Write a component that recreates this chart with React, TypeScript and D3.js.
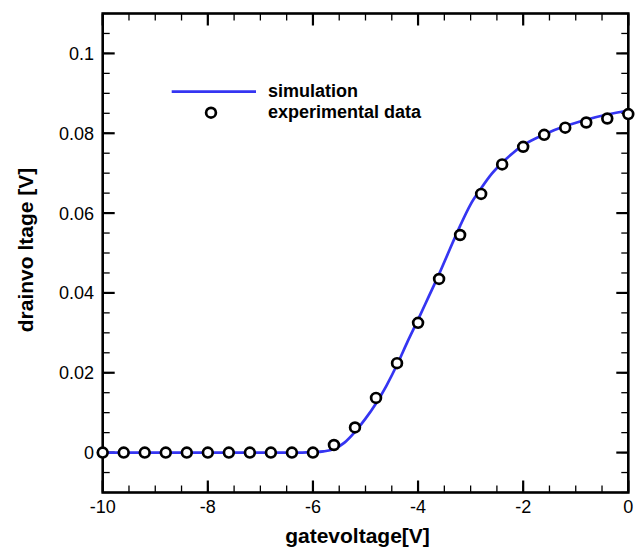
import { scaleLinear, line, curveMonotoneX, range } from "d3"

// experimental points (gate voltage [V] -> drain voltage [V])
const expGate = [-10, -9.6, -9.2, -8.8, -8.4, -8, -7.6, -7.2, -6.8, -6.4, -6, -5.6, -5.2, -4.8, -4.4, -4, -3.6, -3.2, -2.8, -2.4, -2, -1.6, -1.2, -0.8, -0.4, 0]
const expDrain = [0, 0, 0, 0, 0, 0, 0, 0, 0, 0, 0, 0.0019, 0.0063, 0.0137, 0.0224, 0.0325, 0.0435, 0.0545, 0.0648, 0.0722, 0.0766, 0.0796, 0.0814, 0.0827, 0.0837, 0.0848]

// simulation curve
const simGate = [-10, -8, -6.2, -6, -5.8, -5.6, -5.4, -5.2, -5, -4.8, -4.6, -4.4, -4.2, -4, -3.8, -3.6, -3.4, -3.2, -3, -2.8, -2.6, -2.4, -2.2, -2, -1.6, -1.2, -0.8, -0.4, 0]
const simDrain = [0, 0, 0, 0.0001, 0.0003, 0.0009, 0.0025, 0.0052, 0.0085, 0.0123, 0.0168, 0.022, 0.0278, 0.0333, 0.039, 0.0447, 0.0508, 0.0568, 0.0622, 0.0662, 0.0698, 0.0726, 0.075, 0.077, 0.0797, 0.0818, 0.0834, 0.0847, 0.0857]

const xTicks = [-10, -8, -6, -4, -2, 0]
const xTickLabels = ["-10", "-8", "-6", "-4", "-2", "0"]
const yTicks = [0, 0.02, 0.04, 0.06, 0.08, 0.1]
const yTickLabels = ["0", "0.02", "0.04", "0.06", "0.08", "0.1"]

const legendLabels = ["simulation", "experimental data"]

const W = 638
const H = 547
const FONT = "'Liberation Sans', Arial, sans-serif"
const BLUE = "#3535f2"

export default function App() {
  const left = 102.7, right = 628.3, top = 13.5, bottom = 492.5
  const x = scaleLinear().domain([-10, 0]).range([left, right])
  const y = scaleLinear().domain([-0.01, 0.11]).range([bottom, top])

  const minorX = range(-10, 0.001, 0.5)
  const minorY = range(-0.01, 0.1101, 0.005)

  const simPath = line<number>()
    .x((d, i) => x(simGate[i]))
    .y((d) => y(d))
    .curve(curveMonotoneX)(simDrain)

  const majorLen = 12
  const minorLen = 7
  const r = 4.9

  return (
    <svg width={W} height={H} style={{ position: "absolute", left: 0, top: 0, background: "#fff" }} fontFamily={FONT}>
      <rect x={0} y={0} width={W} height={H} fill="#fff" />

      {/* minor ticks */}
      {minorX.map((v, i) => (
        <g key={"mx" + i} stroke="#000" strokeWidth={1.3}>
          <line x1={x(v)} x2={x(v)} y1={bottom} y2={bottom - minorLen} />
          <line x1={x(v)} x2={x(v)} y1={top} y2={top + minorLen} />
        </g>
      ))}
      {minorY.map((v, i) => (
        <g key={"my" + i} stroke="#000" strokeWidth={1.3}>
          <line x1={left} x2={left + minorLen} y1={y(v)} y2={y(v)} />
          <line x1={right} x2={right - minorLen} y1={y(v)} y2={y(v)} />
        </g>
      ))}

      {/* major ticks + labels */}
      {xTicks.map((v, i) => (
        <g key={"x" + i}>
          <line x1={x(v)} x2={x(v)} y1={bottom} y2={bottom - majorLen} stroke="#000" strokeWidth={2.2} />
          <line x1={x(v)} x2={x(v)} y1={top} y2={top + majorLen} stroke="#000" strokeWidth={2.2} />
          <text x={x(v)} y={513} fontSize={18} textAnchor="middle" fill="#000">{xTickLabels[i]}</text>
        </g>
      ))}
      {yTicks.map((v, i) => (
        <g key={"y" + i}>
          <line x1={left} x2={left + majorLen} y1={y(v)} y2={y(v)} stroke="#000" strokeWidth={2.2} />
          <line x1={right} x2={right - majorLen} y1={y(v)} y2={y(v)} stroke="#000" strokeWidth={2.2} />
          <text x={94} y={y(v)} dy="0.36em" fontSize={18} textAnchor="end" fill="#000">{yTickLabels[i]}</text>
        </g>
      ))}

      {/* frame */}
      <rect x={left} y={top} width={right - left} height={bottom - top} fill="none" stroke="#000" strokeWidth={2.6} />

      {/* simulation */}
      <path d={simPath ?? ""} fill="none" stroke={BLUE} strokeWidth={2.7} />

      {/* experimental data */}
      {expDrain.map((d, i) => (
        <circle key={"p" + i} cx={x(expGate[i])} cy={y(d)} r={r} fill="#fff" stroke="#000" strokeWidth={2.7} />
      ))}

      {/* legend */}
      <line x1={171.7} x2={256} y1={91.7} y2={91.7} stroke={BLUE} strokeWidth={2.7} />
      <text x={268} y={96.5} fontSize={18} fontWeight="bold" fill="#000">{legendLabels[0]}</text>
      <circle cx={211} cy={112.7} r={r} fill="#fff" stroke="#000" strokeWidth={2.7} />
      <text x={268} y={117.5} fontSize={18} fontWeight="bold" fill="#000">{legendLabels[1]}</text>

      {/* axis titles */}
      <text x={357.5} y={543} fontSize={21} fontWeight="bold" textAnchor="middle" fill="#000">gatevoltage[V]</text>
      <text transform="translate(33,250) rotate(-90)" fontSize={21} fontWeight="bold" textAnchor="middle" fill="#000">drainvo ltage [V]</text>
    </svg>
  )
}
